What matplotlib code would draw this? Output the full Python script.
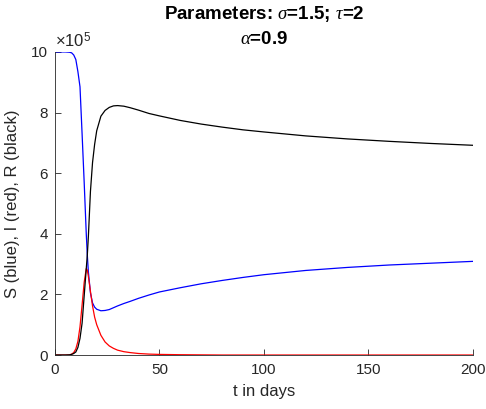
import matplotlib
matplotlib.use("Agg")
from matplotlib import pyplot as plt

plt.rcParams['font.family'] = ['Liberation Sans', 'DejaVu Sans']
plt.rcParams['mathtext.fontset'] = 'custom'
plt.rcParams['mathtext.rm'] = 'Liberation Sans'
plt.rcParams['mathtext.it'] = 'Liberation Serif:italic'
plt.rcParams['mathtext.bf'] = 'Liberation Sans:bold'

# values, in units of 1e5
t = [0, 5, 7, 8, 9, 10, 11, 12, 13, 14, 15, 15.5, 16, 17, 18, 19, 20, 22, 24,
     26, 28, 30, 33, 36, 40, 45, 50, 60, 70, 80, 90, 100, 120, 140, 160, 180, 200]
S = [10, 10, 9.99, 9.97, 9.9, 9.75, 9.35, 8.85, 7.3, 5.7, 4.0, 3.3, 2.75, 2.05,
     1.72, 1.58, 1.51, 1.46, 1.47, 1.50, 1.56, 1.62, 1.70, 1.77, 1.87, 1.98,
     2.08, 2.22, 2.35, 2.46, 2.56, 2.65, 2.79, 2.89, 2.97, 3.03, 3.09]
I = [0, 0, 0.005, 0.03, 0.08, 0.2, 0.45, 0.93, 1.65, 2.4, 2.85, 2.8, 2.6, 2.1,
     1.62, 1.25, 1.0, 0.65, 0.43, 0.3, 0.22, 0.16, 0.11, 0.08, 0.05, 0.03,
     0.02, 0.01, 0.005, 0, 0, 0, 0, 0, 0, 0, 0]
R = [0, 0, 0.005, 0.02, 0.05, 0.1, 0.25, 0.55, 1.05, 1.95, 2.85, 3.3, 3.9, 5.4,
     6.35, 6.95, 7.4, 7.88, 8.07, 8.17, 8.22, 8.23, 8.21, 8.16, 8.08, 7.97,
     7.89, 7.74, 7.62, 7.52, 7.43, 7.36, 7.23, 7.13, 7.05, 6.98, 6.92]

xticks = [0, 50, 100, 150, 200]
yticks = [0, 2, 4, 6, 8, 10]

fig = plt.figure(figsize=(4.86, 4.09), dpi=100)
ax = fig.add_axes([0.113, 0.132, 0.86, 0.741])

ax.plot(t, S, color='#0000ff', lw=0.9)
ax.plot(t, I, color='#ff0000', lw=0.9)
ax.plot(t, R, color='#000000', lw=0.9)

ax.set_xlim(0, 200)
ax.set_ylim(0, 10)
ax.set_xticks(xticks)
ax.set_yticks(yticks)
ax.tick_params(direction='in', length=4, width=0.6, colors='#262626',
               labelsize=11)
ax.tick_params(axis='x', pad=6)
ax.tick_params(axis='y', pad=5)
for side in ['top', 'right']:
    ax.spines[side].set_visible(False)
for side in ['left', 'bottom']:
    ax.spines[side].set_color('#262626')
    ax.spines[side].set_linewidth(0.6)

ax.text(0, 10.05, r'$\times$10$^5$', transform=ax.transData, fontsize=12,
        color='#262626', ha='left', va='bottom')

ax.set_xlabel('t in days', fontsize=12, color='#262626', labelpad=5)
ax.set_ylabel('S (blue), I (red), R (black)', fontsize=12, color='#262626',
              labelpad=8)
ax.set_title('Parameters: $\\sigma$=1.5; $\\tau$=2\n$\\alpha$=0.9',
             fontsize=13.5, fontweight='bold', linespacing=1.5, pad=6)

fig.savefig('out.png', dpi=100)
